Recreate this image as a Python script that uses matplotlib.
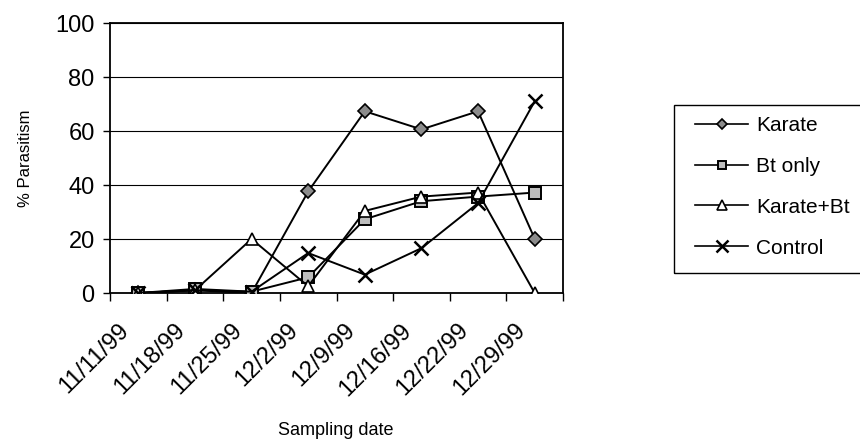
import matplotlib
matplotlib.use("Agg")
import matplotlib.pyplot as plt
from matplotlib.patches import Rectangle
import numpy as np

plt.rcParams['font.family'] = ['Liberation Sans', 'DejaVu Sans']

dates = ["11/11/99", "11/18/99", "11/25/99", "12/2/99", "12/9/99", "12/16/99", "12/22/99", "12/29/99"]
karate = [0, 1, 0, 37.6, 67.3, 60.6, 67.3, 20.1]
bt_only = [0, 1.5, 0.5, 5.8, 27.3, 34.0, 35.7, 37.2]
karate_bt = [0, 1, 20.0, 2.5, 30.4, 35.7, 37.2, 0]
control = [0, 1, 0.5, 14.8, 6.8, 16.6, 33.3, 71.0]

W, H = 860, 448
fig = plt.figure(figsize=(W/100, H/100), dpi=100)
ax = fig.add_axes([110/W, 1-293/H, (563-110)/W, (293-23)/H])

x = np.arange(len(dates))
lw = 1.4
ax.plot(x, karate, color='black', lw=lw, marker='D', ms=7, mfc='#8c8c8c', mec='black', mew=1.2, label='Karate', zorder=3)
ax.plot(x, bt_only, color='black', lw=lw, marker='s', ms=8, mfc='#bdbdbd', mec='black', mew=1.4, label='Bt only', zorder=3)
ax.plot(x, karate_bt, color='black', lw=lw, marker='^', ms=9, mfc='white', mec='black', mew=1.2, label='Karate+Bt', zorder=3)
ax.plot(x, control, color='black', lw=lw, marker='x', ms=10, mec='black', mew=1.8, label='Control', zorder=3)

ax.set_xlim(-0.5, len(dates) - 0.5)
ax.set_ylim(0, 100)
ax.set_yticks([0, 20, 40, 60, 80, 100])
ax.yaxis.grid(True, color='black', lw=0.8)
ax.set_axisbelow(True)
ax.set_xticks(np.arange(-0.5, len(dates), 1.0))
ax.set_xticklabels([])
ax.tick_params(axis='x', direction='out', length=6, width=1.0)
ax.tick_params(axis='y', direction='out', length=5, width=1.0, labelsize=17, pad=6)
for s in ax.spines.values():
    s.set_linewidth(1.3)
    s.set_color('black')

for i, d in enumerate(dates):
    ax.annotate(d, xy=(i, 0), xycoords=('data', 'axes fraction'),
                xytext=(-15, -19), textcoords='offset points',
                rotation=45, ha='right', va='top', rotation_mode='anchor',
                fontsize=17)

ax.set_ylabel('% Parasitism', fontsize=12, labelpad=16)
fig.text(336/W, 1-430/H, 'Sampling date', fontsize=13, ha='center', va='center')

# legend frame
fig.patches.append(Rectangle((674/W, 1-273/H), (W+20-674)/W, (273-105)/H,
                             transform=fig.transFigure, fill=False,
                             edgecolor='black', lw=1.0))
leg = fig.legend(loc='upper left', bbox_to_anchor=(695/W, 1-116/H),
                 fontsize=15, frameon=False,
                 handlelength=2.55, handletextpad=0.38, labelspacing=1.05,
                 borderpad=0, borderaxespad=0)
for h in leg.legend_handles:
    h.set_markersize(h.get_markersize() * 0.8)
    h.set_linewidth(1.2)

fig.savefig('out.png', dpi=100)
